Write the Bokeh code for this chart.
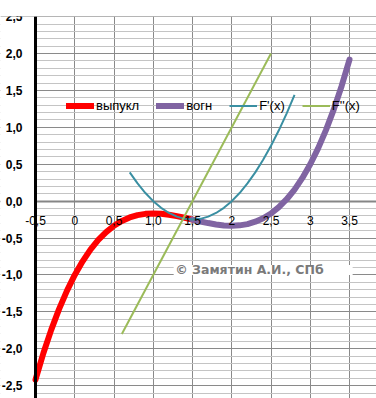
from bokeh.plotting import figure
from bokeh.models import FixedTicker, Label, BoxAnnotation, Range1d, Grid
from bokeh.embed import file_html
from bokeh.resources import INLINE
import numpy as np

# ---- data ----
convex_x = [-0.5, -0.4, -0.3, -0.2, -0.1, 0.0, 0.1, 0.2, 0.3, 0.4, 0.5,
            0.6, 0.7, 0.8, 0.9, 1.0, 1.1, 1.2, 1.3, 1.4, 1.5]
convex_y = [-2.417, -2.061, -1.744, -1.463, -1.215, -1.000, -0.815, -0.657, -0.526, -0.419, -0.333,
            -0.268, -0.221, -0.189, -0.172, -0.167, -0.171, -0.184, -0.203, -0.225, -0.250]

concave_x = [1.5, 1.6, 1.7, 1.8, 1.9, 2.0, 2.1, 2.2, 2.3, 2.4, 2.5,
             2.6, 2.7, 2.8, 2.9, 3.0, 3.1, 3.2, 3.3, 3.4, 3.5]
concave_y = [-0.250, -0.275, -0.297, -0.316, -0.329, -0.333, -0.328, -0.311, -0.279, -0.232, -0.167,
             -0.081, 0.026, 0.157, 0.315, 0.500, 0.715, 0.963, 1.244, 1.561, 1.917]

d1_x = [0.7, 0.8, 0.9, 1.0, 1.1, 1.2, 1.3, 1.4, 1.5, 1.6, 1.7,
        1.8, 1.9, 2.0, 2.1, 2.2, 2.3, 2.4, 2.5, 2.6, 2.7, 2.8]
d1_y = [0.39, 0.24, 0.11, 0.0, -0.09, -0.16, -0.21, -0.24, -0.25, -0.24, -0.21,
        -0.16, -0.09, 0.0, 0.11, 0.24, 0.39, 0.56, 0.75, 0.96, 1.19, 1.44]

d2_x = [0.6, 2.5]
d2_y = [-1.8, 2.0]

x_ticks = [-0.5, 0.0, 0.5, 1.0, 1.5, 2.0, 2.5, 3.0, 3.5]
x_labels = ["-0,5", "0", "0,5", "1,0", "1,5", "2", "2,5", "3", "3,5"]
y_ticks = [-2.5, -2.0, -1.5, -1.0, -0.5, 0.0, 0.5, 1.0, 1.5, 2.0, 2.5]
y_labels = ["-2,5", "-2,0", "-1,5", "-1,0", "-0,5", "0,0", "0,5", "1,0", "1,5", "2,0", "2,5"]
y_minor = [round(v, 1) for v in np.arange(-2.6, 2.51, 0.1)]

series_names = ["выпукл", "вогн", "F'(x)", "F''(x)"]
watermark = "© Замятин А.И., СПб"

X_MIN, X_MAX = -0.946, 3.844
Y_MIN, Y_MAX = -2.674, 2.502

p = figure(width=376, height=398, output_backend="svg", toolbar_location=None,
           x_range=Range1d(X_MIN, X_MAX), y_range=Range1d(Y_MIN, Y_MAX),
           min_border_left=0, min_border_right=0, min_border_top=16, min_border_bottom=0)
p.outline_line_color = None
p.background_fill_color = "white"
p.border_fill_color = "white"

# axes (placed inside the frame)
xt = FixedTicker(ticks=x_ticks)
yt = FixedTicker(ticks=y_ticks, minor_ticks=y_minor)
p.xaxis.ticker = xt
p.yaxis.ticker = yt
p.xaxis.major_label_overrides = {t: l for t, l in zip(x_ticks, x_labels)}
p.yaxis.major_label_overrides = {t: l for t, l in zip(y_ticks, y_labels)}
p.xaxis.fixed_location = 0
p.yaxis.fixed_location = x_ticks[0]

p.xaxis.axis_line_color = None
p.xaxis.major_tick_line_color = None
p.xaxis.minor_tick_line_color = None
p.xaxis.major_tick_out = 0
p.xaxis.minor_tick_out = 0
p.xaxis.major_label_standoff = 15
p.xaxis.major_label_text_font = "Liberation Sans"
p.xaxis.major_label_text_font_size = "12px"
p.xaxis.major_label_text_color = "black"

p.yaxis.axis_line_color = "black"
p.yaxis.axis_line_width = 3
p.yaxis.major_tick_line_color = None
p.yaxis.minor_tick_line_color = None
p.yaxis.major_tick_out = 0
p.yaxis.minor_tick_out = 0
p.yaxis.major_label_standoff = 13
p.yaxis.major_label_text_font = "Liberation Sans"
p.yaxis.major_label_text_font_size = "12px"
p.yaxis.major_label_text_font_style = "bold"
p.yaxis.major_label_text_color = "black"

# grids
p.xgrid.ticker = xt
p.ygrid.ticker = yt
p.xgrid.grid_line_color = "#8a8a8a"
p.ygrid.grid_line_color = "#8a8a8a"
p.ygrid.minor_grid_line_color = "#c4c4c4"
# horizontal axis line at y = 0
p.add_layout(Grid(dimension=1, ticker=FixedTicker(ticks=[0.0]),
                  grid_line_color="#868686", grid_line_width=2))
# blank strip left of the vertical axis (label area)
p.add_layout(BoxAnnotation(right=x_ticks[0], fill_color="white", fill_alpha=1,
                           line_color=None, level="underlay"))

# series
p.line(convex_x, convex_y, line_color="#ff0000", line_width=6, line_cap="round",
       line_join="round", legend_label=series_names[0])
p.line(concave_x, concave_y, line_color="#8064a2", line_width=6, line_cap="round",
       line_join="round", legend_label=series_names[1])
p.line(d1_x, d1_y, line_color="#3a8fa2", line_width=2, legend_label=series_names[2])
p.line(d2_x, d2_y, line_color="#9bbb59", line_width=2, legend_label=series_names[3])

# legend
lg = p.legend[0]
lg.orientation = "horizontal"
lg.location = (66, 285)
lg.background_fill_alpha = 0
lg.border_line_color = None
lg.padding = 0
lg.margin = 0
lg.spacing = 17
lg.glyph_width = 28
lg.glyph_height = 15
lg.label_standoff = 2
lg.label_text_font = "Liberation Sans"
lg.label_text_font_size = "13px"
lg.label_text_color = "black"
lg.label_height = 15

# watermark
p.add_layout(BoxAnnotation(left=1.26, right=3.54, top=-0.865, bottom=-1.0,
                           fill_color="white", fill_alpha=1, line_color=None))
p.add_layout(Label(x=1.28, y=-0.932, text=watermark, text_font="DejaVu Sans",
                   text_font_size="12.5px", text_font_style="bold", text_color="#7a7a7a",
                   text_baseline="middle", text_align="left"))

open("out.html", "w").write(file_html(p, INLINE))
